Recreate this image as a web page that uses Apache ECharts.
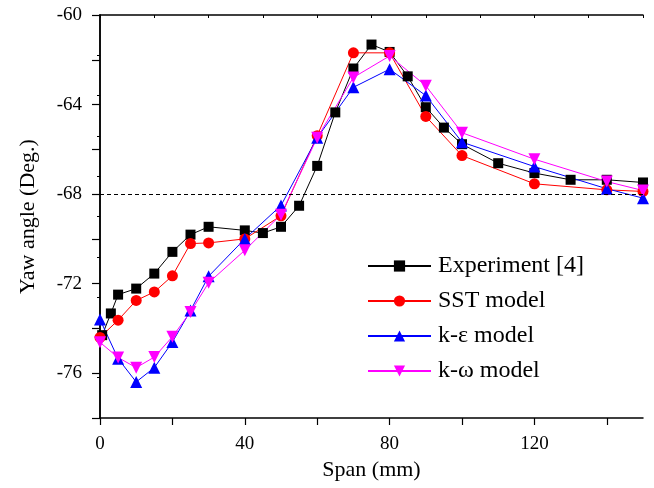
<!DOCTYPE html>
<html>
<head>
<meta charset="utf-8">
<script src="https://cdn.jsdelivr.net/npm/echarts@6/dist/echarts.min.js"></script>
<style>
  html, body { margin: 0; padding: 0; background: #fff; }
  #chart { width: 654px; height: 488px; }
</style>
</head>
<body>
<div id="chart"></div>
<script>
// values
const expX = [0.6, 3, 5, 10, 15, 20, 25, 30, 40, 45, 50, 55, 60, 65, 70, 75, 80, 85, 90, 95, 100, 110, 120, 130, 140, 150];
const expY = [-74.3, -73.33, -72.49, -72.22, -71.55, -70.58, -69.81, -69.46, -69.62, -69.74, -69.46, -68.52, -66.74, -64.35, -62.39, -61.32, -61.65, -62.74, -64.12, -65.03, -65.77, -66.62, -67.06, -67.36, -67.36, -67.48];

const modelX = [0, 5, 10, 15, 20, 25, 30, 40, 50, 60, 70, 80, 90, 100, 120, 140, 150];
const sstY = [-74.4, -73.63, -72.75, -72.37, -71.65, -70.21, -70.18, -70.0, -68.97, -65.39, -61.69, -61.69, -64.53, -66.28, -67.54, -67.81, -67.88];
const keY = [-73.6, -75.35, -76.39, -75.75, -74.61, -73.2, -71.67, -70.0, -68.51, -65.48, -63.23, -62.42, -63.6, -65.68, -66.77, -67.76, -68.18];
const kwY = [-74.62, -75.3, -75.75, -75.28, -74.37, -73.27, -71.96, -70.51, -68.92, -65.48, -62.79, -61.83, -63.16, -65.26, -66.44, -67.44, -67.84];

const refLine = -68;

const pairs = (xs, ys) => xs.map((x, i) => [x, ys[i]]);
const font = 'Liberation Serif';
const axisLine = { lineStyle: { color: '#000', width: 1.5 } };

const chart = echarts.init(document.getElementById('chart'));

function lineSeries(name, data, color, symbol, size) {
  return {
    name: name,
    type: 'line',
    data: data,
    symbol: symbol,
    symbolSize: size,
    showSymbol: true,
    lineStyle: { color: color, width: 1 },
    itemStyle: { color: color },
    animation: false
  };
}

const series = [
  lineSeries('Experiment [4]', pairs(expX, expY), '#000000', 'rect', 10),
  lineSeries('SST model', pairs(modelX, sstY), '#ff0000', 'circle', 11),
  lineSeries('k-ε model', pairs(modelX, keY), '#0000ff', 'triangle', 12),
  lineSeries('k-ω model', pairs(modelX, kwY), '#ff00ff', 'path://M0,0 L10,0 L5,9 Z', 12)
];
series[0].markLine = {
  silent: true,
  symbol: 'none',
  label: { show: false },
  lineStyle: { color: '#000', type: [4, 3], width: 1 },
  data: [{ yAxis: refLine }]
};

chart.setOption({
  backgroundColor: '#fff',
  animation: false,
  grid: { left: 100, right: 11, top: 15, bottom: 70 },
  legend: {
    left: 362,
    top: 249,
    orient: 'vertical',
    itemWidth: 63,
    itemHeight: 14,
    itemGap: 11,
    textStyle: { fontFamily: font, fontSize: 24, color: '#000', padding: [0, 0, 0, 2] },
    data: series.map(s => s.name)
  },
  xAxis: [{
    type: 'value',
    min: 0,
    max: 150,
    interval: 20,
    name: 'Span (mm)',
    nameLocation: 'middle',
    nameGap: 38,
    nameTextStyle: { fontFamily: font, fontSize: 22, color: '#000' },
    axisLine: axisLine,
    axisTick: { inside: false, length: 7, lineStyle: { color: '#000', width: 1.2 } },
    axisLabel: {
      fontFamily: font, fontSize: 19, color: '#000', margin: 17,
      formatter: v => (v % 40 === 0 ? String(v) : ''),
      showMaxLabel: false
    },
    splitLine: { show: false }
  }, {
    type: 'value',
    position: 'top',
    min: 0,
    max: 10,
    interval: 1,
    axisLine: axisLine,
    axisTick: { inside: true, length: 3, lineStyle: { color: '#000' } },
    axisLabel: { show: false },
    splitLine: { show: false }
  }],
  yAxis: [{
    type: 'value',
    min: -78,
    max: -60,
    interval: 2,
    name: 'Yaw angle (Deg.)',
    nameLocation: 'middle',
    nameGap: 61,
    nameTextStyle: { fontFamily: font, fontSize: 22, color: '#000' },
    axisLine: axisLine,
    axisTick: { inside: false, length: 8, lineStyle: { color: '#000', width: 1.2 } },
    axisLabel: {
      fontFamily: font, fontSize: 19, color: '#000', margin: 18,
      formatter: v => ((v + 60) % 4 === 0 ? String(v) : '')
    },
    splitLine: { show: false }
  }, {
    type: 'value',
    position: 'right',
    min: 0,
    max: 10,
    interval: 1,
    axisLine: axisLine,
    axisTick: { inside: true, length: 3, lineStyle: { color: '#000' } },
    axisLabel: { show: false },
    splitLine: { show: false }
  }],
  series: series
});
</script>
</body>
</html>
